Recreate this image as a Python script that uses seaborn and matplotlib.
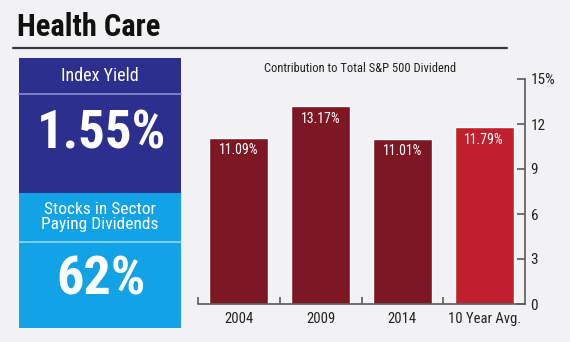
import matplotlib
matplotlib.use("Agg")
import matplotlib.pyplot as plt
from matplotlib.patches import Rectangle
from matplotlib.lines import Line2D
import seaborn as sns
import pandas as pd

# Data
categories = ["2004", "2009", "2014", "10 Year Avg."]
contribution = [11.09, 13.17, 11.01, 11.79]
bar_colors = ["#7e1724", "#7e1724", "#7e1724", "#c01f2e"]
yticks = [0, 3, 6, 9, 12, 15]
ytick_labels = ["0", "3", "6", "9", "12", "15%"]
index_yield = "1.55%"
paying_share = "62%"

sns.set_theme(style="white")
FAM = ["Roboto Condensed", "Archivo Narrow", "DejaVu Sans"]
plt.rcParams["font.family"] = FAM

W, H = 570, 342
BG = "#f2f2f4"
fig = plt.figure(figsize=(W / 100, H / 100), dpi=100, facecolor=BG)

def fx(x):
    return x / W

def fy(y):
    return 1 - y / H

# Header
fig.text(fx(17), fy(27), "Health Care", fontsize=22, fontweight="bold",
         color="#111111", va="center", ha="left")
fig.add_artist(Line2D([fx(13), fx(507)], [fy(48), fy(48)], color="#3a3a3a",
                      lw=1.6, transform=fig.transFigure))

# Left info panel
dark_blue = "#2c2f8e"
light_blue = "#12a2e6"
fig.add_artist(Rectangle((fx(19), fy(193)), fx(181) - fx(19), fy(58) - fy(193),
                         transform=fig.transFigure, color=dark_blue, lw=0))
fig.add_artist(Rectangle((fx(19), fy(328)), fx(181) - fx(19), fy(193) - fy(328),
                         transform=fig.transFigure, color=light_blue, lw=0))
fig.add_artist(Line2D([fx(19), fx(181)], [fy(93.5), fy(93.5)], color="#8c8fd0",
                      lw=1.2, transform=fig.transFigure))
fig.add_artist(Line2D([fx(19), fx(181)], [fy(242), fy(242)], color="#8fd6f7",
                      lw=1.2, transform=fig.transFigure))

fig.text(fx(100), fy(76), "Index Yield", fontsize=13, color="white",
         ha="center", va="center")
fig.text(fx(102), fy(134), index_yield, fontsize=38, fontweight="bold",
         color="white", ha="center", va="center")
fig.text(fx(100), fy(217), "Stocks in Sector\nPaying Dividends", fontsize=12.5,
         color="white", ha="center", va="center", linespacing=1.05)
fig.text(fx(101), fy(280), paying_share, fontsize=39, fontweight="bold",
         color="white", ha="center", va="center")

# Bar chart
ax = fig.add_axes([fx(198), fy(304), fx(525) - fx(198), fy(79) - fy(304)])
ax.set_facecolor(BG)
df = pd.DataFrame({"category": categories, "value": contribution})
sns.barplot(data=df, x="category", y="value", hue="category",
            palette=bar_colors, width=0.72, saturation=1, legend=False, ax=ax)

ax.set_xlim(-0.5, 3.5)
ax.set_ylim(0, 15)
for sp in ["top", "left"]:
    ax.spines[sp].set_visible(False)
spine_color = "#5a5a5a"
for sp in ["bottom", "right"]:
    ax.spines[sp].set_color(spine_color)
    ax.spines[sp].set_linewidth(1.2)

ax.yaxis.tick_right()
ax.set_yticks(yticks)
ax.set_yticklabels(ytick_labels)
ax.tick_params(axis="y", right=True, direction="in", length=6, width=1.2,
               color=spine_color, labelsize=11, labelcolor="#222222", pad=4)

ax.set_xticks(range(len(categories)))
ax.set_xticklabels(categories)
ax.tick_params(axis="x", which="major", length=0, labelsize=10.5,
               labelcolor="#222222", pad=6)
ax.set_xticks([-0.5, 0.5, 1.5, 2.5], minor=True)
ax.tick_params(axis="x", which="minor", bottom=True, direction="in", length=5,
               width=1.2, color=spine_color)
ax.set_xlabel("")
ax.set_ylabel("")

for i, v in enumerate(contribution):
    ax.annotate(f"{v:.2f}%", (i, v), xytext=(0, -9), textcoords="offset points",
                ha="center", va="center", color="white", fontsize=10)

fig.text(fx(360), fy(68), "Contribution to Total S&P 500 Dividend", fontsize=9,
         color="#222222", ha="center", va="center")

fig.savefig("out.png", dpi=100, facecolor=BG)
